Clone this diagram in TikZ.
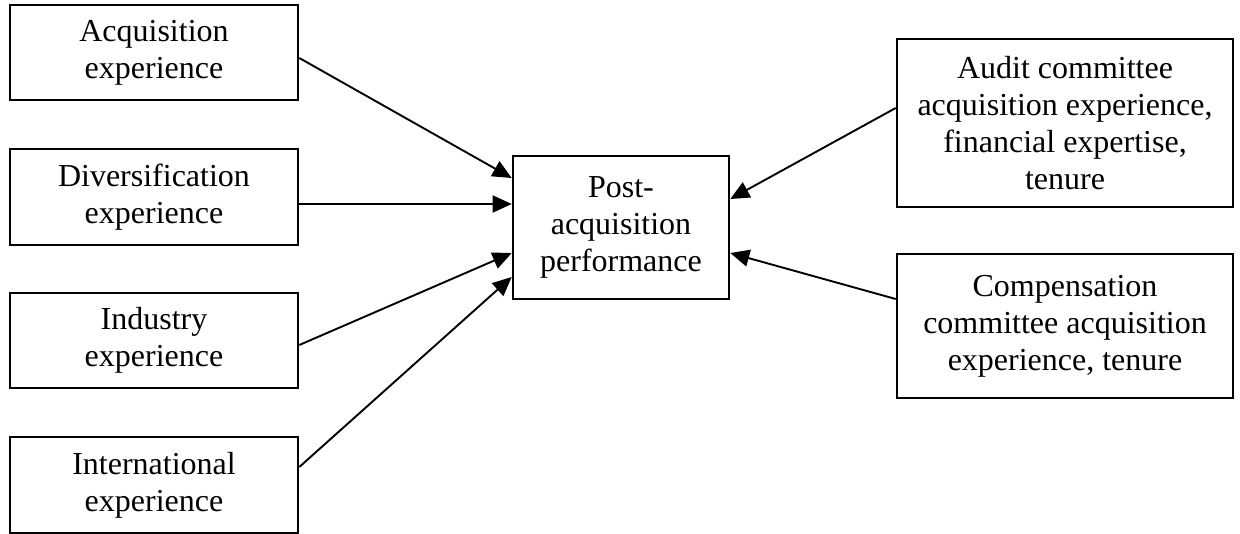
\documentclass[tikz,border=0pt]{standalone}
\usepackage{fontspec}
\setmainfont{Liberation Serif}
\usetikzlibrary{arrows.meta}
\begin{document}
\begin{tikzpicture}[x=1pt,y=-1pt,
  box/.style={draw=black, line width=2.6pt, inner sep=0pt, align=center,
    font=\fontsize{32}{37}\selectfont},
  arr/.style={line width=1.9pt, -{Triangle[length=19pt,width=17pt]}}]
\useasboundingbox (0,0) rectangle (1240,533);
\node[box, minimum width=288pt, minimum height=95pt] (A) at (154,52.5) {Acquisition\\experience};
\node[box, minimum width=288pt, minimum height=96pt] (D) at (154,197) {Diversification\\experience};
\node[box, minimum width=288pt, minimum height=95pt] (I) at (154,340.5) {Industry\\experience};
\node[box, minimum width=288pt, minimum height=96pt] (N) at (154,485) {International\\experience};
\node[box, minimum width=216pt, minimum height=143pt] (P) at (621,227.5) {Post-\\acquisition\\performance};
\node[box, minimum width=336pt, minimum height=168pt] (U) at (1065,123) {Audit committee\\acquisition experience,\\financial expertise,\\tenure};
\node[box, minimum width=336pt, minimum height=144pt] (C) at (1065,326) {Compensation\\committee acquisition\\experience, tenure};
\draw[arr] ([yshift=-5.5pt]A.east) -- ([yshift=49.5pt]P.west);
\draw[arr] ([yshift=-7pt]D.east) -- ([yshift=23.5pt]P.west);
\draw[arr] ([yshift=-4.5pt]I.east) -- ([yshift=-25.5pt]P.west);
\draw[arr] ([yshift=18pt]N.east) -- ([yshift=-49.5pt]P.west);
\draw[arr] ([yshift=15pt]U.west) -- ([yshift=28.5pt]P.east);
\draw[arr] ([yshift=27pt]C.west) -- ([yshift=-25.5pt]P.east);
\end{tikzpicture}
\end{document}
